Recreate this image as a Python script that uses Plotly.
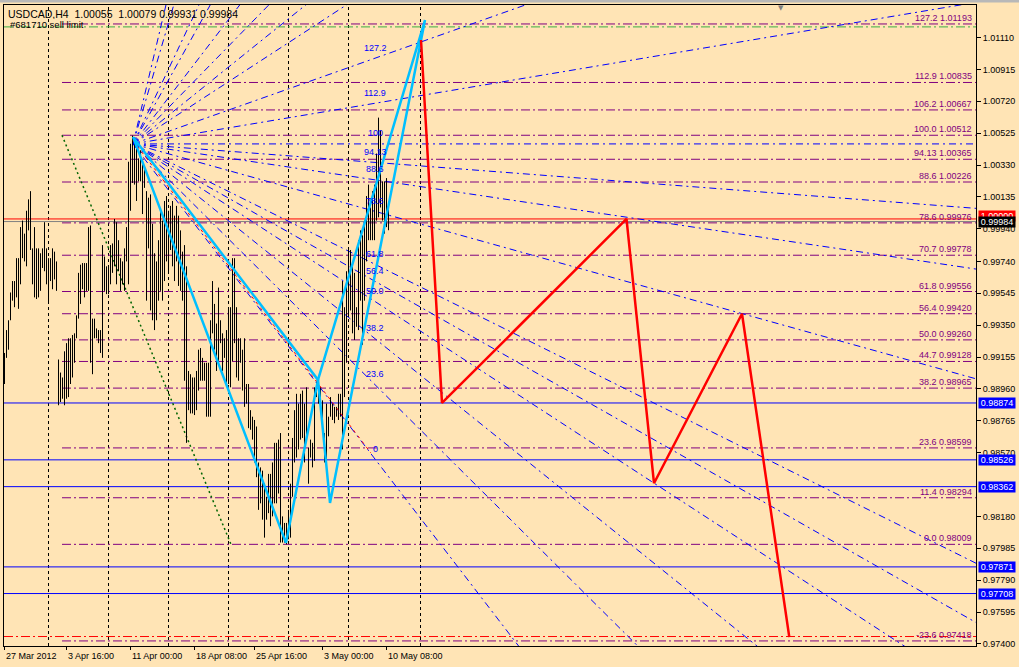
import plotly.graph_objects as go

BG = "#FFE4B5"
FONT = "Liberation Sans"

# ---------------- data ----------------
# H4 bars (index = bar number from the first visible bar)
bar_high = [
    0.9918, 0.9932, 0.9938, 0.9955, 0.9962, 0.9962, 0.9976, 0.9976, 0.9995, 0.9999,
    0.9991, 1.0005, 1.0012, 1.0017, 0.9982, 0.9995, 0.9982, 0.9982, 0.9979, 0.9982,
    0.9998, 0.9982, 0.9976, 0.9976, 0.9982, 0.9980, 0.9974, 0.9914, 0.9906, 0.9903,
    0.9919, 0.9924, 0.9927, 0.9927, 0.9929, 0.9930, 0.9941, 0.9967, 0.9972, 0.9973,
    0.9973, 0.9973, 0.9995, 0.9996, 0.9939, 0.9939, 0.9933, 0.9932, 0.9932, 0.9984,
    0.9977, 0.9971, 0.9971, 0.9984, 0.9985, 1.0000, 0.9998, 0.9987, 0.9976, 0.9974,
    0.9982, 0.9995, 1.0035, 1.0046, 1.0051, 1.0048, 1.0043, 1.0037, 1.0042, 1.0035,
    1.0031, 1.0017, 1.0013, 1.0015, 0.9997, 0.9979, 0.9974, 0.9987, 1.0005, 0.9999,
    1.0011, 1.0014, 1.0005, 1.0008, 1.0011, 1.0002, 1.0008, 1.0002, 0.9993, 0.9980,
    0.9984, 0.9971, 0.9907, 0.9905, 0.9903, 0.9903, 0.9907, 0.9920, 0.9921, 0.9915,
    0.9912, 0.9912, 0.9912, 0.9938, 0.9962, 0.9948, 0.9936, 0.9958, 0.9938, 0.9930,
    0.9927, 0.9932, 0.9946, 0.9946, 0.9976, 0.9976, 0.9946, 0.9927, 0.9927, 0.9920,
    0.9927, 0.9899, 0.9899, 0.9883, 0.9879, 0.9877, 0.9873, 0.9851, 0.9848, 0.9846,
    0.9838, 0.9830, 0.9844, 0.9844, 0.9851, 0.9863, 0.9863, 0.9865, 0.9869, 0.9818,
    0.9814, 0.9814, 0.9822, 0.9838, 0.9866, 0.9883, 0.9893, 0.9887, 0.9893, 0.9895,
    0.9887, 0.9897, 0.9860, 0.9865, 0.9863, 0.9897, 0.9901, 0.9901, 0.9897, 0.9889,
    0.9869, 0.9887, 0.9879, 0.9891, 0.9887, 0.9885, 0.9885, 0.9893, 0.9893, 0.9962,
    0.9946, 0.9968, 0.9981, 0.9981, 0.9973, 0.9967, 0.9946, 0.9987, 0.9993, 0.9990,
    0.9996, 1.0014, 1.0021, 1.0007, 1.0017, 1.0021, 1.0040, 1.0062, 1.0054, 1.0023,
    1.0023, 1.0025, 1.00079,
]
bar_low = [
    0.9899, 0.9915, 0.9920, 0.9938, 0.9950, 0.9946, 0.9952, 0.9945, 0.9960, 0.9976,
    0.9974, 0.9971, 0.9993, 0.9981, 0.9960, 0.9952, 0.9951, 0.9952, 0.9956, 0.9970,
    0.9968, 0.9960, 0.9949, 0.9962, 0.9957, 0.9963, 0.9956, 0.9886, 0.9888, 0.9890,
    0.9886, 0.9890, 0.9891, 0.9899, 0.9903, 0.9912, 0.9927, 0.9939, 0.9948, 0.9957,
    0.9952, 0.9956, 0.9956, 0.9912, 0.9905, 0.9927, 0.9927, 0.9924, 0.9918, 0.9915,
    0.9956, 0.9954, 0.9954, 0.9960, 0.9967, 0.9971, 0.9960, 0.9968, 0.9956, 0.9960,
    0.9956, 0.9974, 0.9960, 1.0005, 1.0022, 1.0021, 1.0011, 1.0023, 1.0023, 1.0003,
    1.0019, 0.9950, 0.9982, 0.9944, 0.9938, 0.9932, 0.9938, 0.9950, 0.9956, 0.9950,
    0.9962, 0.9974, 0.9968, 0.9981, 0.9971, 0.9962, 0.9974, 0.9959, 0.9956, 0.9950,
    0.9901, 0.9863, 0.9883, 0.9881, 0.9881, 0.9880, 0.9883, 0.9895, 0.9901, 0.9901,
    0.9901, 0.9879, 0.9879, 0.9879, 0.9930, 0.9920, 0.9907, 0.9912, 0.9924, 0.9907,
    0.9915, 0.9899, 0.9899, 0.9897, 0.9913, 0.9924, 0.9903, 0.9901, 0.9912, 0.9895,
    0.9885, 0.9887, 0.9872, 0.9871, 0.9865, 0.9851, 0.9842, 0.9822, 0.9826, 0.9816,
    0.9805, 0.9816, 0.9820, 0.9812, 0.9818, 0.9826, 0.9826, 0.9832, 0.9802, 0.9802,
    0.9802, 0.98009, 0.9804, 0.9805, 0.9830, 0.9851, 0.9854, 0.9859, 0.9865, 0.9866,
    0.9851, 0.9866, 0.9838, 0.9854, 0.9848, 0.9852, 0.9891, 0.9887, 0.9889, 0.9875,
    0.9851, 0.9852, 0.9867, 0.9879, 0.9877, 0.9875, 0.9879, 0.9877, 0.9879, 0.9859,
    0.9891, 0.9912, 0.9940, 0.9944, 0.9930, 0.9926, 0.9934, 0.9932, 0.9950, 0.9923,
    0.9950, 0.9974, 0.9987, 0.9987, 0.9987, 0.9987, 0.9999, 1.0001, 1.0007, 0.9999,
    0.9991, 0.9995, 0.99931,
]

# price scale labels (right)
price_ticks = [1.01110, 1.00915, 1.00720, 1.00525, 1.00330, 1.00135, 0.99940, 0.99740,
               0.99545, 0.99350, 0.99155, 0.98960, 0.98765, 0.98570, 0.98180,
               0.97985, 0.97790, 0.97595, 0.97400]
price_tick_text = ["%.5f" % v for v in price_ticks]

# time scale labels (bottom)
time_label_bars = [0, 31, 63, 95, 125, 159, 191]
time_labels = ["27 Mar 2012", "3 Apr 16:00", "11 Apr 00:00", "18 Apr 08:00",
               "25 Apr 16:00", "3 May 00:00", "10 May 08:00"]
separator_bars = [22, 52, 82, 112, 142, 172, 208]

# Fibonacci retracement levels (purple)
fib_names = ["127.2", "112.9", "106.2", "100.0", "94.13", "88.6", "78.6", "70.7", "61.8",
             "56.4", "50.0", "44.7", "38.2", "23.6", "11.4", "0.0", "-23.6"]
fib_prices = [1.01193, 1.00835, 1.00667, 1.00512, 1.00365, 1.00226, 0.99976, 0.99778,
              0.99556, 0.99420, 0.99260, 0.99128, 0.98965, 0.98599, 0.98294, 0.98009, 0.97418]
fib_start_bar = 28.75
fib_trend_bars = [28.75, 113.25]
fib_trend_prices = [1.00512, 0.98009]

# Fibonacci fan (blue)
fan_origin_bar, fan_origin_price = 64.25, 1.00459
fan_ref_bar = 185.25
fan_price_0, fan_price_100 = 0.98531, 1.00459
fan_levels = [0.0, 23.6, 38.2, 50.0, 56.4, 61.8, 78.6, 88.6, 94.13, 100.0, 112.9, 127.2]
fan_names = ["0", "23.6", "38.2", "50.0", "56.4", "61.8", "78.6", "88.6", "94.13", "100", "112.9", "127.2"]
fan_levels_far = [150.0, 161.8, 178.6, 200.0, 238.2, 261.8, 361.8, 423.6]

# horizontal lines
blue_levels = [0.98874, 0.98526, 0.98362, 0.97871, 0.97708]
order_price = 1.00000      # red solid
bid_price = 0.99984        # grey solid
sell_limit_price = 1.01175 # green dash-dot
tp_price = 0.97445         # red dash-dot

# harmonic pattern (cyan) points X, A, B, C, D
pat_bars = [64.25, 140.75, 156.75, 162.75, 210.25]
pat_prices = [1.00502, 0.98018, 0.99015, 0.98262, 1.01217]

# projected path (red)
proj_bars = [208.25, 218.75, 311.0, 324.75, 368.75, 392.4]
proj_prices = [1.01095, 0.98874, 1.00000, 0.98383, 0.99420, 0.97441]

# thin red dotted trend line
red_trend_bars = [64.25, 183.25]
red_trend_prices = [1.00480, 0.98567]

X_MIN, X_MAX = -0.25, 485.75
Y_MIN, Y_MAX = 0.97387, 1.01309

fig = go.Figure()


def add_line(xs, ys, color, width=1.0, dash="solid"):
    fig.add_trace(go.Scatter(x=xs, y=ys, mode="lines", hoverinfo="skip",
                             line=dict(color=color, width=width, dash=dash)))


# full-width horizontal lines
for p in blue_levels:
    add_line([X_MIN, X_MAX], [p, p], "#0000FF", 1)
add_line([X_MIN, X_MAX], [sell_limit_price, sell_limit_price], "#3CB043", 1, "9px,3px,2px,3px")
add_line([X_MIN, X_MAX], [tp_price, tp_price], "#FF0000", 1, "9px,3px,2px,3px")

# fib levels
for p in fib_prices:
    add_line([fib_start_bar, X_MAX], [p, p], "#800080", 1, "9px,3px,2px,3px")

add_line([X_MIN, X_MAX], [bid_price, bid_price], "#808080", 1)
add_line([X_MIN, X_MAX], [order_price, order_price], "#FF0000", 1)

# fan rays
def ray_end(level):
    p_ref = fan_price_0 + level / 100.0 * (fan_price_100 - fan_price_0)
    k = (X_MAX + 50 - fan_origin_bar) / (fan_ref_bar - fan_origin_bar)
    return fan_origin_price + (p_ref - fan_origin_price) * k

for lv in fan_levels + fan_levels_far:
    add_line([fan_origin_bar, X_MAX + 50], [fan_origin_price, ray_end(lv)], "#0000FF", 1,
             "7px,4px,2px,4px")

# fib trend line (green dotted)
add_line(fib_trend_bars, fib_trend_prices, "#006400", 1.5, "2px,3px")

# bars
bx, by = [], []
for i, (h, l) in enumerate(zip(bar_high, bar_low)):
    bx += [i, i, None]
    by += [l, h, None]
fig.add_trace(go.Scatter(x=bx, y=by, mode="lines", hoverinfo="skip",
                         line=dict(color="black", width=1)))

add_line(red_trend_bars, red_trend_prices, "#FF0000", 1, "3px,4px")

# harmonic pattern triangles
X, A, B, C, D = range(5)
path = [X, A, B, X, None, B, C, D, B]
px = [pat_bars[k] if k is not None else None for k in path]
py = [pat_prices[k] if k is not None else None for k in path]
add_line(px, py, "#00BFFF", 2.5)

# projection
add_line(proj_bars, proj_prices, "#FF0000", 2.5)

# separators
shapes = []
for b in separator_bars:
    shapes.append(dict(type="line", xref="x", yref="paper", x0=b, x1=b, y0=0, y1=1,
                       line=dict(color="black", width=1, dash="3px,3px"), layer="below"))
# window top strip
shapes.append(dict(type="rect", xref="paper", yref="paper", x0=-0.01, x1=1.05,
                   y0=1 + 2.5 / 641, y1=1 + 6 / 641, fillcolor="#B8B8B8", line=dict(width=0),
                   layer="above"))

ann = []
# fib labels
for name, p in zip(fib_names, fib_prices):
    ann.append(dict(xref="paper", yref="y", x=1, y=p, xanchor="right", yanchor="bottom",
                    xshift=-2, yshift=-1, text="%s %.5f" % (name, p), showarrow=False,
                    font=dict(family=FONT, size=9, color="#800080")))
# fan labels
for name, lv in zip(fan_names, fan_levels):
    p_ref = fan_price_0 + lv / 100.0 * (fan_price_100 - fan_price_0)
    ann.append(dict(xref="x", yref="y", x=fan_ref_bar, y=p_ref, xanchor="center",
                    yanchor="middle", yshift=10.5, text=name, showarrow=False,
                    font=dict(family=FONT, size=9, color="#0000FF")))
# time labels
for b, t in zip(time_label_bars, time_labels):
    ann.append(dict(xref="x", yref="paper", x=b, y=0, xanchor="left", yanchor="middle",
                    xshift=-1, yshift=-10, text=t, showarrow=False,
                    font=dict(family=FONT, size=9, color="black")))
# price boxes
def box(p, bg, text=None):
    ann.append(dict(xref="paper", yref="y", x=1, y=p, xanchor="left", yanchor="middle",
                    xshift=2, text=text or "%.5f" % p, showarrow=False, bgcolor=bg,
                    width=36, height=10, borderpad=0,
                    font=dict(family=FONT, size=9, color="white")))

for p in blue_levels:
    box(p, "#0000FF")
ann.append(dict(xref="paper", yref="y", x=1, y=order_price, xanchor="left", yanchor="middle",
                xshift=2, yshift=3, text="1.00000", showarrow=False, bgcolor="#FF0000",
                width=36, height=10, borderpad=0, font=dict(family=FONT, size=9, color="white")))
box(bid_price, "#000000")

# title
ann.append(dict(xref="paper", yref="paper", x=0, y=1, xanchor="left", yanchor="middle",
                xshift=3, yshift=-8.5, height=11, borderpad=0,
                text="USDCAD,H4\u00a0\u00a01.00055\u00a0\u00a01.00079\u00a00.99931\u00a00.99984",
                showarrow=False, font=dict(family=FONT, size=10.5, color="black")))
ann.append(dict(xref="paper", yref="paper", x=0, y=1, xanchor="left", yanchor="middle",
                xshift=5, yshift=-19, height=9, borderpad=0, text="#681710 sell limit",
                showarrow=False, font=dict(family=FONT, size=9.5, color="black")))
ann.append(dict(xref="paper", yref="paper", x=777 / 972, y=1, xanchor="center",
                yanchor="middle", yshift=-3, text="\u25bc", showarrow=False,
                font=dict(family="DejaVu Sans", size=7, color="#808080")))

fig.update_layout(
    width=1019, height=667,
    margin=dict(l=4, r=43, t=5, b=21, pad=0, autoexpand=False),
    paper_bgcolor=BG, plot_bgcolor=BG, showlegend=False,
    shapes=shapes, annotations=ann,
    xaxis=dict(range=[X_MIN, X_MAX], showgrid=False, zeroline=False, showline=True,
               linecolor="black", linewidth=1, mirror=True, tickmode="array",
               tickvals=time_label_bars, showticklabels=False, ticks="outside", ticklen=3,
               tickcolor="black", fixedrange=True),
    yaxis=dict(range=[Y_MIN, Y_MAX], side="right", showgrid=False, zeroline=False,
               showline=True, linecolor="black", linewidth=1, mirror=True, tickmode="array",
               tickvals=price_ticks, ticktext=price_tick_text, ticks="outside", ticklen=4,
               tickcolor="black", tickfont=dict(family=FONT, size=9, color="black"),
               fixedrange=True),
)

fig.write_html("out.html", post_script="document.body.style.margin='0';",
               config={"displayModeBar": False})
